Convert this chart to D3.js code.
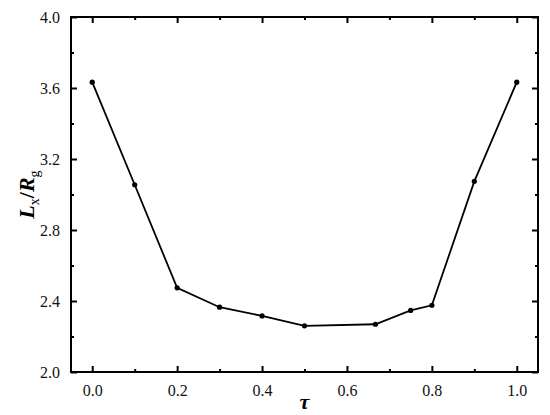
<!DOCTYPE html>
<html>
<head>
<meta charset="utf-8">
<script src="https://cdn.jsdelivr.net/npm/d3@7"></script>
<style>
  body { margin: 0; background: #fff; }
</style>
</head>
<body>
<svg id="chart" width="550" height="415"></svg>
<script>
// data
const tau = [0.0, 0.1, 0.2, 0.3, 0.4, 0.5, 0.667, 0.75, 0.8, 0.9, 1.0];
const ratio = [3.633, 3.055, 2.474, 2.365, 2.316, 2.26, 2.269, 2.347, 2.376, 3.074, 3.633];
const xTicks = [0, 0.2, 0.4, 0.6, 0.8, 1.0];
const yTicks = [2.0, 2.4, 2.8, 3.2, 3.6, 4.0];

const serif = "'Liberation Serif', 'Times New Roman', serif";
const margin = {top: 17, right: 12, bottom: 43, left: 71};
const width = 550 - margin.left - margin.right,
      height = 415 - margin.top - margin.bottom;

const svg = d3.select("#chart");
const g = svg.append("g")
    .attr("transform", "translate(" + margin.left + "," + margin.top + ")");

const x = d3.scaleLinear().domain([-0.05, 1.05]).range([0, width]);
const y = d3.scaleLinear().domain([2.0, 4.0]).range([height, 0]);

// minor ticks
const xMinor = d3.range(0.1, 1.0, 0.2);
const yMinor = d3.range(2.2, 4.0, 0.4);

function styleAxis(sel) {
    sel.attr("font-family", serif);
    sel.select(".domain").remove();
    sel.selectAll("line").attr("stroke", "#000").attr("stroke-width", 2);
    sel.selectAll("text").attr("font-family", serif).attr("font-size", 16).attr("fill", "#111");
}

// bottom
g.append("g").attr("transform", "translate(0," + height + ")")
    .call(d3.axisBottom(x).tickValues(xTicks).tickSize(-6).tickPadding(13).tickFormat(d3.format(".1f")))
    .call(styleAxis);
g.append("g").attr("transform", "translate(0," + height + ")")
    .call(d3.axisBottom(x).tickValues(xMinor).tickSize(-3).tickFormat(""))
    .call(styleAxis);
// top
g.append("g")
    .call(d3.axisTop(x).tickValues(xTicks).tickSize(-6).tickFormat(""))
    .call(styleAxis);
g.append("g")
    .call(d3.axisTop(x).tickValues(xMinor).tickSize(-3).tickFormat(""))
    .call(styleAxis);
// left
g.append("g")
    .call(d3.axisLeft(y).tickValues(yTicks).tickSize(-6).tickPadding(11).tickFormat(d3.format(".1f")))
    .call(styleAxis);
g.append("g")
    .call(d3.axisLeft(y).tickValues(yMinor).tickSize(-3).tickFormat(""))
    .call(styleAxis);
// right
g.append("g").attr("transform", "translate(" + width + ",0)")
    .call(d3.axisRight(y).tickValues(yTicks).tickSize(-6).tickFormat(""))
    .call(styleAxis);
g.append("g").attr("transform", "translate(" + width + ",0)")
    .call(d3.axisRight(y).tickValues(yMinor).tickSize(-3).tickFormat(""))
    .call(styleAxis);

// frame
g.append("rect")
    .attr("width", width).attr("height", height)
    .attr("fill", "none").attr("stroke", "#000").attr("stroke-width", 2);

// line
const line = d3.line()
    .x(function(d, i) { return x(tau[i]); })
    .y(function(d) { return y(d); });
g.append("path")
    .datum(ratio)
    .attr("d", line)
    .attr("fill", "none")
    .attr("stroke", "#000")
    .attr("stroke-width", 1.8);

g.selectAll(".pt")
    .data(ratio)
    .enter()
    .append("circle")
    .attr("class", "pt")
    .attr("cx", function(d, i) { return x(tau[i]); })
    .attr("cy", function(d) { return y(d); })
    .attr("r", 2.6)
    .attr("fill", "#000");

// x label
svg.append("text")
    .attr("x", margin.left + x(0.5))
    .attr("y", 409)
    .attr("text-anchor", "middle")
    .attr("font-family", serif)
    .attr("font-size", 22)
    .attr("font-weight", "bold")
    .attr("font-style", "italic")
    .text("τ");

// y label
const yl = svg.append("text")
    .attr("transform", "translate(34," + (margin.top + height / 2) + ") rotate(-90)")
    .attr("text-anchor", "middle")
    .attr("font-family", serif)
    .attr("font-size", 22)
    .attr("font-weight", "bold");
yl.append("tspan").attr("font-style", "italic").text("L");
yl.append("tspan").attr("font-size", 14).attr("dy", 5).attr("font-weight", "normal").text("x");
yl.append("tspan").attr("dy", -5).text("/");
yl.append("tspan").attr("font-style", "italic").text("R");
yl.append("tspan").attr("font-size", 14).attr("dy", 5).attr("font-weight", "normal").text("g");
</script>
</body>
</html>
